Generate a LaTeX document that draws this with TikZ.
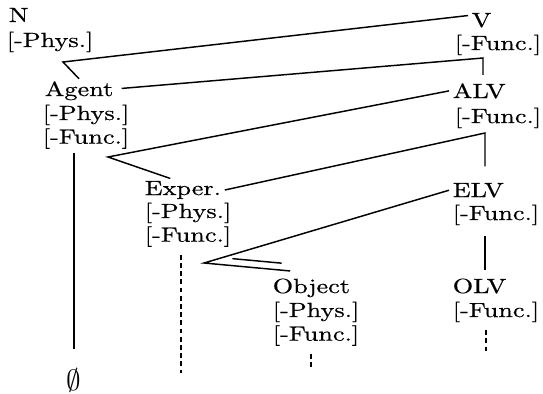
\documentclass[tikz,border=0pt]{standalone}
\usepackage{fontspec}
\setmainfont{lmroman10-regular.otf}[FakeStretch=1.28, FakeBold=0.6]
\usetikzlibrary{calc}
\newcommand{\fts}[1]{\begin{tabular}[t]{@{}l@{}}#1\end{tabular}}
\tikzset{
  cat/.style={anchor=base west, inner xsep=3pt, inner ysep=2pt,
              font=\fontsize{17.5}{20.2}\selectfont},
  feat/.style={cat},
  arc/.style={line width=1.25pt},
  trunk/.style={arc, shorten <=5pt, shorten >=5pt},
  trace/.style={line width=1.1pt, dash pattern=on 4pt off 3pt, shorten <=3pt},
}

\begin{document}
\begin{tikzpicture}[x=0.03cm, y=-0.03cm]
  \useasboundingbox (0,0) rectangle (543,393);
  % categories
  \node[cat]  (n)      at (5,22)    {N};
  \node[feat] (nf)     at (3,47)    {\fts{[-Phys.]}};
  \node[cat]  (v)      at (468,27)  {V};
  \node[feat] (vf)     at (451,50)  {\fts{[-Func.]}};
  \node[cat]  (agent)  at (41,96)   {Agent};
  \node[feat] (agentf) at (39,120)  {\fts{[-Phys.]\\ {[-Func.]}}};
  \node[cat]  (alv)    at (449,98)  {ALV};
  \node[feat] (alvf)   at (451,123) {\fts{[-Func.]}};
  \node[cat]  (exper)  at (141,195) {Exper.};
  \node[feat] (experf) at (141,218) {\fts{[-Phys.]\\ {[-Func.]}}};
  \node[cat]  (elv)    at (449,197) {ELV};
  \node[feat] (elvf)   at (449,220) {\fts{[-Func.]}};
  \node[cat]  (object) at (269,293) {Object};
  \node[feat] (objectf) at (269,317) {\fts{[-Phys.]\\ {[-Func.]}}};
  \node[cat]  (olv)    at (449,293) {OLV};
  \node[feat] (olvf)   at (449,317) {\fts{[-Func.]}};
  \node[cat, anchor=center, font=\fontsize{24.88}{28}\selectfont] (nul) at (74,380) {$\emptyset$};
  % branch points
  \coordinate (nv) at (63,62);
  \coordinate (c1) at (483,58);
  \coordinate (av) at (108,157);
  \coordinate (c2) at (485,133);
  \coordinate (ev) at (204,263);
  \coordinate (ot) at ($(object.north west)!.25!(object.north east)+(0,-5)$);
  \coordinate (xend) at (181,373);
  \coordinate (oend) at (311,370);
  \coordinate (lend) at (486,353);
  \draw[arc] ([yshift=4pt]v.west) -- (nv) -- (agent.north);
  \draw[arc, shorten >=5pt] ([xshift=4pt, yshift=2pt]agent.east) -- (c1) -- (c1 |- alv.north);
  \draw[arc] (alv.west) -- (av) -- ($(exper.north west)!.35!(exper.north east)$);
  \draw[arc, shorten >=12pt] (exper.east) -- (c2) -- (c2 |- elv.north);
  \draw[arc] (elv.west) -- (ev) -- (ot);
  \draw[arc] ($(ev)!.33!(ot)+(0,-7)$) -- ($(ev)!.9!(ot)+(0,-7)$);
  \draw[arc, shorten >=14pt] (agentf.south -| nul.north) -- (nul.north);
  \draw[trunk] (elvf.south -| c2) -- (olv.north -| c2);
  \draw[trace] (experf.south -| xend) -- (xend);
  \draw[trace] (objectf.south -| oend) -- (oend);
  \draw[trace] (olvf.south -| lend) -- (lend);
\end{tikzpicture}
\end{document}
